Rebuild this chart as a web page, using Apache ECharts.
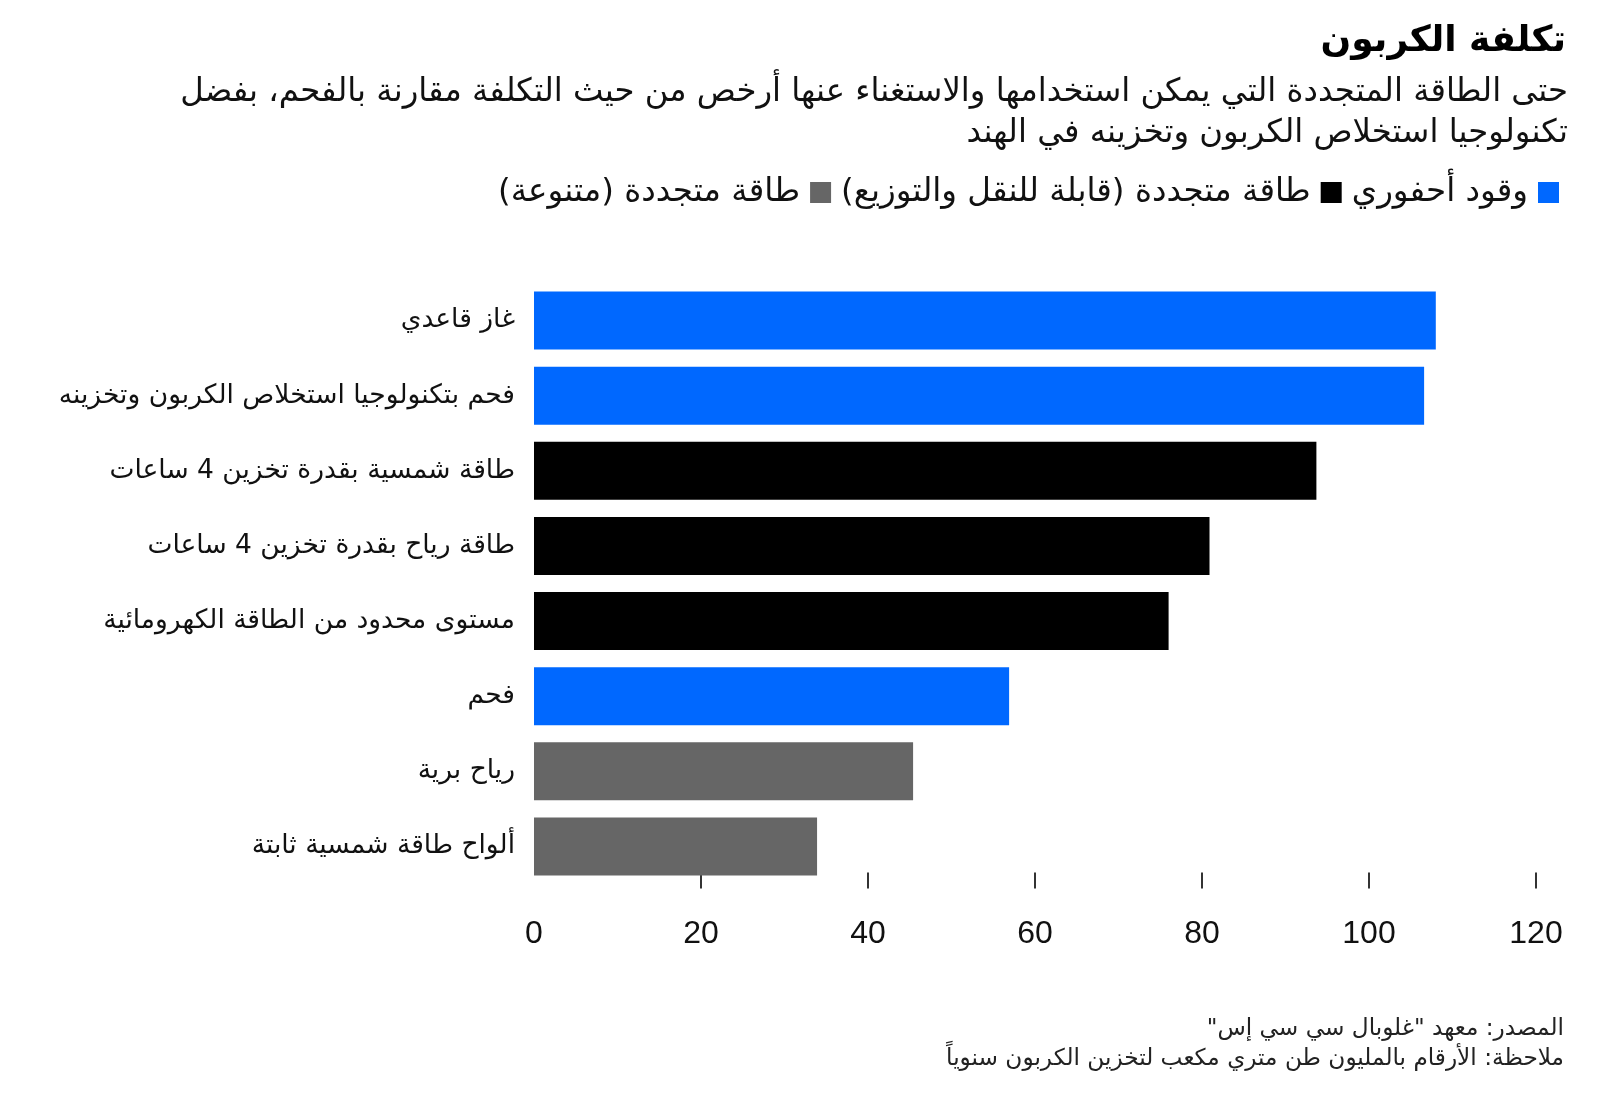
<!DOCTYPE html>
<html>
<head>
<meta charset="utf-8">
<script src="https://cdn.jsdelivr.net/npm/echarts@6/dist/echarts.min.js"></script>
<style>
html,body{margin:0;padding:0;background:#fff;}
#chart{width:1600px;height:1098px;}
</style>
</head>
<body>
<div id="chart" dir="rtl"></div>
<script>
const titleText = 'تكلفة الكربون';
const subtitleText = 'حتى الطاقة المتجددة التي يمكن استخدامها والاستغناء عنها أرخص من حيث التكلفة مقارنة بالفحم، بفضل\nتكنولوجيا استخلاص الكربون وتخزينه في الهند';
const footerText = 'المصدر: معهد "غلوبال سي سي إس"\nملاحظة: الأرقام بالمليون طن متري مكعب لتخزين الكربون سنوياً';

const categories = [
  'غاز قاعدي',
  'فحم بتكنولوجيا استخلاص الكربون وتخزينه',
  'طاقة شمسية بقدرة تخزين 4 ساعات',
  'طاقة رياح بقدرة تخزين 4 ساعات',
  'مستوى محدود من الطاقة الكهرومائية',
  'فحم',
  'رياح برية',
  'ألواح طاقة شمسية ثابتة'
];
const values = [108, 106.6, 93.7, 80.9, 76, 56.9, 45.4, 33.9];
const groupOf = ['fossil', 'fossil', 'firm', 'firm', 'firm', 'fossil', 'variable', 'variable'];

const seriesNames = {
  fossil: 'وقود أحفوري',
  firm: 'طاقة متجددة (قابلة للنقل والتوزيع)',
  variable: 'طاقة متجددة (متنوعة)'
};
const seriesColors = { fossil: '#0068ff', firm: '#000000', variable: '#666666' };
const seriesOrder = ['fossil', 'firm', 'variable'];

const xTicks = [0, 20, 40, 60, 80, 100, 120];

const AR = '"DejaVu Sans", "Noto Sans", sans-serif';
const NUM = '"Liberation Sans", Arial, sans-serif';

const chart = echarts.init(document.getElementById('chart'));

const series = seriesOrder.map(g => ({
  name: seriesNames[g],
  type: 'bar',
  stack: 'all',
  barWidth: 58,
  itemStyle: { color: seriesColors[g] },
  data: values.map((v, i) => groupOf[i] === g ? v : null)
}));

chart.setOption({
  animation: false,
  backgroundColor: '#ffffff',
  graphic: [
    { type: 'text', right: 34, top: 24,
      style: { text: titleText, font: 'bold 36px ' + AR, fill: '#000', textAlign: 'right' } },
    { type: 'text', right: 32, top: 72,
      style: { text: subtitleText, font: '32.3px ' + AR, lineHeight: 41, fill: '#111', textAlign: 'right' } },
    { type: 'text', right: 36, top: 1014,
      style: { text: footerText, font: '23.2px ' + AR, lineHeight: 30, fill: '#222', textAlign: 'right' } }
  ],
  legend: {
    data: seriesOrder.slice().reverse().map(g => seriesNames[g]),
    right: 36,
    top: 171,
    align: 'right',
    icon: 'rect',
    itemWidth: 21,
    itemHeight: 21,
    itemGap: 10,
    selectedMode: false,
    textStyle: { fontFamily: AR, fontSize: 32.5, color: '#111', padding: [0, 5, 0, 0] }
  },
  grid: { left: 534, right: 64, top: 283, height: 601, containLabel: false },
  xAxis: {
    type: 'value',
    min: 0,
    max: 120,
    interval: 20,
    offset: 4.5,
    axisLine: { show: false },
    splitLine: { show: false },
    axisTick: { show: true, inside: true, length: 16, customValues: xTicks.slice(1),
      lineStyle: { color: '#333', width: 2 } },
    axisLabel: { customValues: xTicks, margin: 30, fontFamily: NUM, fontSize: 32, color: '#111' }
  },
  yAxis: {
    type: 'category',
    inverse: true,
    data: categories,
    axisLine: { show: false },
    axisTick: { show: false },
    axisLabel: { margin: 19, fontFamily: AR, fontSize: 26.5, color: '#111' }
  },
  series: series
});
</script>
</body>
</html>
